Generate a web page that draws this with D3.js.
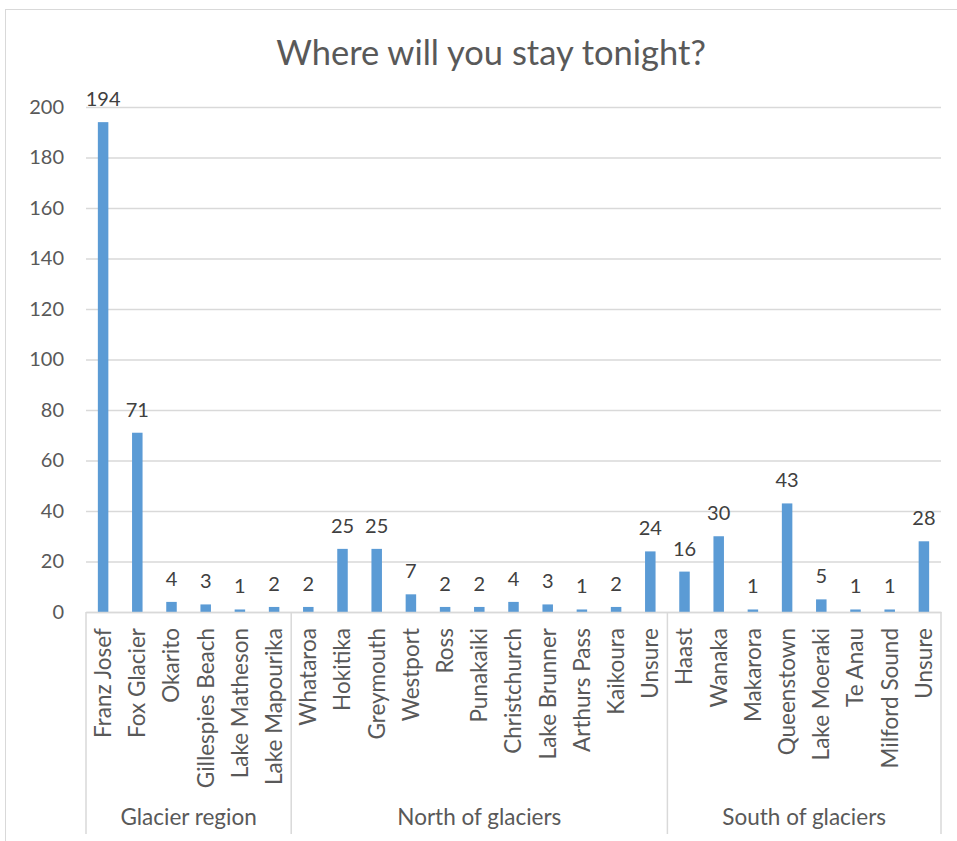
<!DOCTYPE html>
<html><head><meta charset="utf-8">
<script src="https://cdn.jsdelivr.net/npm/d3@7"></script>
<style>body{margin:0;background:#fff;} svg{display:block;font-family:Lato,sans-serif;}</style>
</head><body>
<svg id="c" width="957" height="841"></svg>
<script>
const title = "Where will you stay tonight?";
const categories = ["Franz Josef","Fox Glacier","Okarito","Gillespies Beach","Lake Matheson","Lake Mapourika",
  "Whataroa","Hokitika","Greymouth","Westport","Ross","Punakaiki","Christchurch","Lake Brunner","Arthurs Pass","Kaikoura","Unsure",
  "Haast","Wanaka","Makarora","Queenstown","Lake Moeraki","Te Anau","Milford Sound","Unsure"];
const values = [194,71,4,3,1,2, 2,25,25,7,2,2,4,3,1,2,24, 16,30,1,43,5,1,1,28];
const groupNames = ["Glacier region","North of glaciers","South of glaciers"];
const groupSizes = [6,11,8];
const yTicks = [0,20,40,60,80,100,120,140,160,180,200];

const svg = d3.select("#c");
const W = 957, H = 841;
const m = {left:86, right:941, top:107, bottom:612};
const txt = "#595959";
const F = "Lato";

svg.append("rect").attr("x",5.5).attr("y",9.5).attr("width",W-4).attr("height",H-5)
  .attr("fill","#fff").attr("stroke","#d9d9d9").attr("stroke-width",1);

svg.append("text").attr("x",491).attr("y",65).attr("text-anchor","middle")
  .attr("font-size",34.5).attr("fill",txt).attr("font-family",F).text(title);

const idx = categories.map((d,i)=>i);
const x = d3.scaleBand().domain(idx).range([m.left,m.right]).paddingInner(0).paddingOuter(0);
const y = d3.scaleLinear().domain([0,200]).range([m.bottom,m.top]);

// gridlines
const gy = svg.append("g").attr("transform",`translate(${m.left},0)`)
  .call(d3.axisLeft(y).tickValues(yTicks).tickSize(-(m.right-m.left)).tickPadding(22));
gy.select(".domain").remove();
gy.selectAll(".tick line").attr("stroke","#d9d9d9").attr("stroke-width",1.5);
gy.selectAll(".tick text").attr("font-size",20).attr("fill",txt).attr("font-family",F);

const bw = 10.5;
svg.append("g").selectAll("rect").data(values).join("rect")
  .attr("x",(d,i)=>x(i)+x.bandwidth()/2-bw/2).attr("width",bw)
  .attr("y",d=>y(d)).attr("height",d=>y(0)-y(d)).attr("fill","#5B9BD5");

svg.append("g").selectAll("text").data(values).join("text")
  .attr("x",(d,i)=>x(i)+x.bandwidth()/2).attr("y",d=>y(d)-16)
  .attr("text-anchor","middle").attr("font-size",20).attr("fill","#404040").attr("font-family",F).text(d=>d);

// category axis
const xa = svg.append("g").attr("transform",`translate(0,${m.bottom})`)
  .call(d3.axisBottom(x).tickSize(0).tickFormat(i=>categories[i]));
xa.select(".domain").attr("stroke","#d9d9d9").attr("stroke-width",1.5);
xa.selectAll(".tick text").attr("font-size",22.5).attr("fill",txt).attr("font-family",F)
  .attr("text-anchor","end").attr("transform","rotate(-90)").attr("x",-16).attr("y",0).attr("dy","0.35em");

// group separators and labels
let start = 0;
const bounds = [0];
groupSizes.forEach(s=>{start+=s; bounds.push(start);});
const bx = i => i>=categories.length ? m.right : x(i);
svg.append("g").selectAll("line").data(bounds).join("line")
  .attr("x1",d=>bx(d)).attr("x2",d=>bx(d)).attr("y1",m.bottom).attr("y2",834)
  .attr("stroke","#d9d9d9").attr("stroke-width",1.5);
svg.append("g").selectAll("text").data(groupNames).join("text")
  .attr("x",(d,i)=>(bx(bounds[i])+bx(bounds[i+1]))/2).attr("y",825)
  .attr("text-anchor","middle").attr("font-size",22.5).attr("fill",txt).attr("font-family",F).text(d=>d);
</script>
</body></html>
